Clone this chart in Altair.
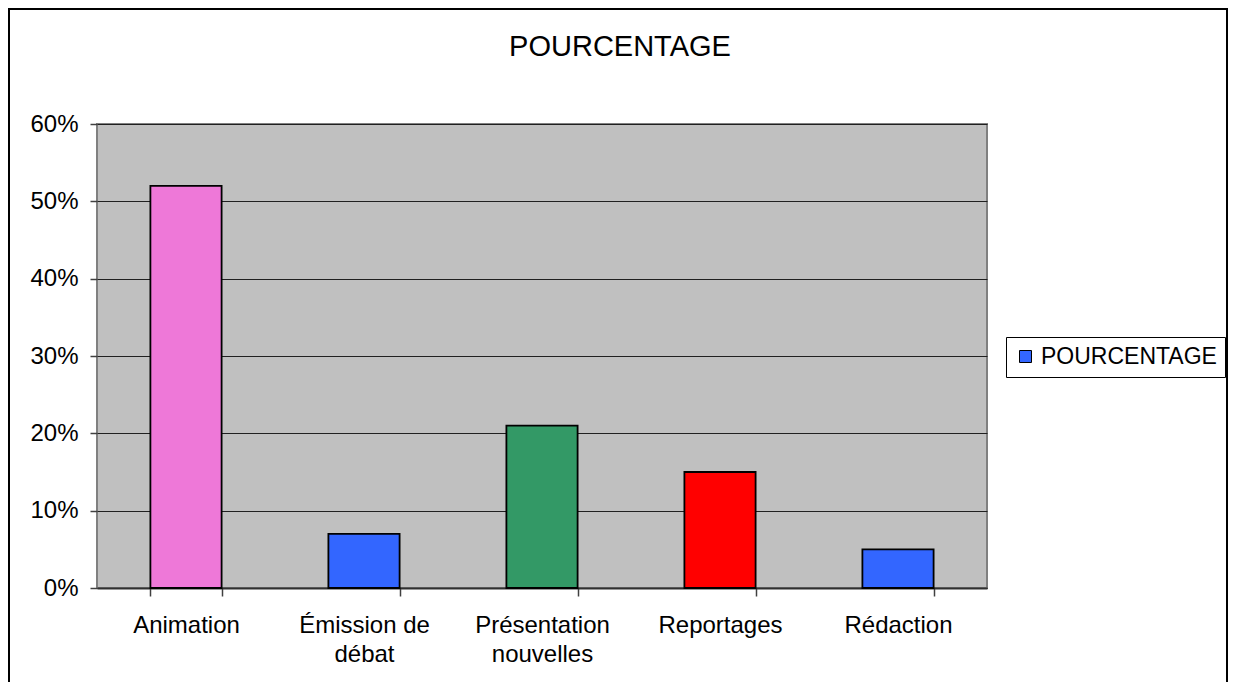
import altair as alt
import pandas as pd

# ---- data ----
categories = ["Animation", "Émission de\ndébat", "Présentation\nnouvelles", "Reportages", "Rédaction"]
values = [0.52, 0.07, 0.21, 0.15, 0.05]
bar_colors = ["#EE78D8", "#3366FF", "#339966", "#FF0000", "#3366FF"]
y_ticks = [0, 0.1, 0.2, 0.3, 0.4, 0.5, 0.6]
series_name = "POURCENTAGE"
chart_title = "POURCENTAGE"
legend_color = "#3366FF"

df = pd.DataFrame({"Catégorie": categories, "Valeur": values, "Série": [series_name] * len(categories)})

W, H = 890, 464
FONT = "Liberation Sans"

x_enc = alt.X(
    "Catégorie:N",
    sort=categories,
    scale=alt.Scale(paddingInner=0.6, paddingOuter=0.3),
    axis=alt.Axis(
        title=None,
        labelAngle=0,
        labelExpr="split(datum.label, '\\n')",
        labelFont=FONT,
        labelFontSize=24,
        labelColor="black",
        labelLineHeight=29,
        labelPadding=17,
        tickBand="extent",
        tickSize=8,
        tickColor="#404040",
        tickWidth=1.5,
        domainColor="#303030",
        domainWidth=2,
        grid=False,
    ),
)
y_enc = alt.Y(
    "Valeur:Q",
    scale=alt.Scale(domain=[0, 0.6], nice=False),
    axis=alt.Axis(
        title=None,
        values=y_ticks,
        format=".0%",
        labelFont=FONT,
        labelFontSize=24,
        labelColor="black",
        labelPadding=12,
        tickSize=7,
        tickColor="#404040",
        tickWidth=1.5,
        domain=False,
        grid=True,
        gridColor="#202020",
        gridWidth=1.2,
    ),
)

bars = alt.Chart(df).mark_bar(stroke="black", strokeWidth=1.8).encode(
    x=x_enc,
    y=y_enc,
    fill=alt.Fill(
        "Catégorie:N",
        sort=categories,
        scale=alt.Scale(domain=categories, range=bar_colors),
        legend=None,
    ),
)

legend_layer = alt.Chart(df).mark_square(opacity=0).encode(
    x=alt.X("Catégorie:N", sort=categories),
    y=alt.Y("Valeur:Q"),
    fill=alt.Fill(
        "Série:N",
        scale=alt.Scale(domain=[series_name], range=[legend_color]),
        legend=alt.Legend(
            title=None,
            orient="none",
            legendX=909,
            legendY=213,
            fillColor="white",
            strokeColor="black",
            padding=8,
            symbolType="square",
            symbolSize=144,
            symbolStrokeColor="black",
            symbolStrokeWidth=1,
            symbolOpacity=1,
            symbolFillColor=legend_color,
            labelFont=FONT,
            labelFontSize=23,
            labelColor="black",
            labelOffset=4,
            labelLimit=400,
        ),
    ),
)

meta = alt.Data(values=[{"titre": chart_title}])

border = alt.Chart(meta).mark_rect(
    fill="transparent", stroke="black", strokeWidth=2
).encode(
    x=alt.value(-88), x2=alt.value(1130), y=alt.value(-115), y2=alt.value(700)
)

title_text = alt.Chart(meta).mark_text(
    font=FONT, fontSize=29, color="black", align="center", baseline="alphabetic"
).encode(
    x=alt.value(523), y=alt.value(-68), text="titre:N"
)

chart = (
    alt.layer(border, title_text, bars, legend_layer)
    .resolve_scale(fill="independent")
    .properties(
        width=W,
        height=H,
        padding={"left": 89, "top": 116, "right": 241, "bottom": 94},
        autosize=alt.AutoSizeParams(type="none"),
        background="white",
    )
    .configure_view(fill="#C0C0C0", stroke="#808080", strokeWidth=2)
)

chart.save("out.html", embed_options={"renderer": "svg", "actions": False})
